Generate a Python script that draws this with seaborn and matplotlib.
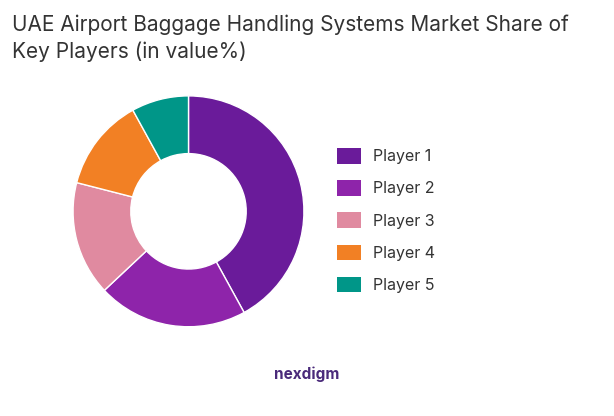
import matplotlib
matplotlib.use('Agg')
import matplotlib.pyplot as plt
import seaborn as sns
from matplotlib.patches import Patch

sns.set_theme(style='white')
plt.rcParams['font.family'] = ['Inter', 'DejaVu Sans']

players = ['Player 1', 'Player 2', 'Player 3', 'Player 4', 'Player 5']
shares = [42, 21, 16, 13, 8]
colors = ['#6A1B9A', '#8E24AA', '#E08AA0', '#F28024', '#009688']

fig = plt.figure(figsize=(6.14, 4.16), dpi=100)
ax = fig.add_axes([0.072, 0.145, 0.47, 0.694])
ax.pie(shares, colors=colors, startangle=90, counterclock=False,
       wedgeprops=dict(width=0.5, edgecolor='white', linewidth=1))
ax.set_aspect('equal')

fig.text(0.02, 0.965, 'UAE Airport Baggage Handling Systems Market Share of\nKey Players (in value%)',
         ha='left', va='top', fontsize=15, color='#333333', linespacing=1.4)

handles = [Patch(facecolor=c, edgecolor='none') for c in colors]
fig.legend(handles, players, loc='center left', bbox_to_anchor=(0.525, 0.47),
           frameon=False, fontsize=11.5, labelspacing=1.0, handlelength=1.5,
           handleheight=1.1, handletextpad=0.8, labelcolor='#333333')

fig.text(0.5, 0.1, 'nexdigm', ha='center', va='center', fontsize=11,
         color='#4a2a7a', fontweight='bold')
fig.savefig('out.png', dpi=100)
